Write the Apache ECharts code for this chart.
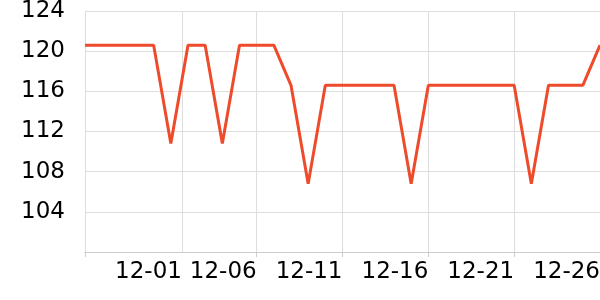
<!DOCTYPE html>
<html><head><meta charset="utf-8">
<script src="https://cdn.jsdelivr.net/npm/echarts@6/dist/echarts.min.js"></script>
<style>html,body{margin:0;padding:0;background:#fff}#c{width:600px;height:300px}</style>
</head><body><div id="c"></div>
<script>
var dates = ['2023-11-26','2023-11-27','2023-11-28','2023-11-29','2023-11-30','2023-12-01','2023-12-02','2023-12-03','2023-12-04','2023-12-05','2023-12-06','2023-12-07','2023-12-08','2023-12-09','2023-12-10','2023-12-11','2023-12-12','2023-12-13','2023-12-14','2023-12-15','2023-12-16','2023-12-17','2023-12-18','2023-12-19','2023-12-20','2023-12-21','2023-12-22','2023-12-23','2023-12-24','2023-12-25','2023-12-26'];
var values = [120.6,120.6,120.6,120.6,120.6,110.8,120.6,120.6,110.8,120.6,120.6,120.6,116.6,106.8,116.6,116.6,116.6,116.6,116.6,106.8,116.6,116.6,116.6,116.6,116.6,116.6,106.8,116.6,116.6,116.6,120.6];
var tickDates = ['2023-11-26T00:00:00','2023-12-01T15:30:00','2023-12-06T00:00:00','2023-12-11T00:00:00','2023-12-16T00:00:00','2023-12-21T00:00:00','2023-12-26T00:00:00'];
var labelDates = tickDates.slice(1);
function ts(s){ return new Date(s).getTime(); }
var chart = echarts.init(document.getElementById('c'));
chart.setOption({
  animation:false,
  grid:{left:85,right:0,top:11,bottom:48,containLabel:false,outerBoundsMode:'none'},
  xAxis:{type:'time',min:ts(dates[0]+'T00:00:00'),max:ts(dates[dates.length-1]+'T00:00:00'),
    axisLine:{lineStyle:{color:'#ccc'}},
    axisTick:{lineStyle:{color:'#ccc'},customValues:tickDates.map(ts)},
    splitLine:{show:true,lineStyle:{color:'#ddd'}},
    axisLabel:{customValues:labelDates.map(ts),align:'right',margin:9,formatter:'{MM}-{dd}',fontSize:23,color:'#000',fontFamily:'DejaVu Sans',hideOverlap:false}},
  yAxis:{type:'value',min:100,max:124,interval:4,
    axisLine:{show:false},axisTick:{show:false},
    splitLine:{lineStyle:{color:'#ddd'}},
    axisLabel:{showMinLabel:false,fontSize:23,color:'#000',margin:20,fontFamily:'DejaVu Sans'}},
  series:[{type:'line',data:dates.map(function(d,i){return [ts(d+'T00:00:00'),values[i]];}),showSymbol:false,
    lineStyle:{color:'#ee4b2b',width:3}}]
});
</script></body></html>
